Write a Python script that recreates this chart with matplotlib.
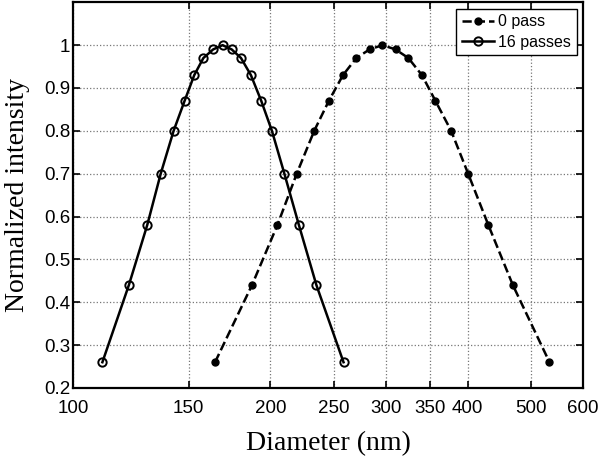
import matplotlib
matplotlib.use('Agg')
import matplotlib.pyplot as plt
from matplotlib.ticker import FixedLocator, FormatStrFormatter, NullLocator

# 0 pass (dashed, filled dots)
d_pass0 = [164.6, 187.4, 204.9, 219.3, 233.2, 245.5, 258.0, 270.4, 283.3, 296.4,
           310.3, 324.6, 340.5, 357.0, 377.3, 400.5, 430.0, 468.6, 533.0]
i_pass0 = [0.26, 0.44, 0.58, 0.70, 0.80, 0.87, 0.93, 0.97, 0.99, 1.00,
           0.99, 0.97, 0.93, 0.87, 0.80, 0.70, 0.58, 0.44, 0.26]

# 16 passes (solid, open circles)
d_pass16 = [110.8, 121.6, 129.7, 136.0, 142.3, 147.9, 153.0, 158.0, 163.5, 169.0,
            174.5, 180.3, 186.7, 193.6, 201.0, 210.0, 221.0, 235.0, 258.5]
i_pass16 = [0.26, 0.44, 0.58, 0.70, 0.80, 0.87, 0.93, 0.97, 0.99, 1.00,
            0.99, 0.97, 0.93, 0.87, 0.80, 0.70, 0.58, 0.44, 0.26]

x_ticks = [100, 150, 200, 250, 300, 350, 400, 500, 600]
y_ticks = [0.2, 0.3, 0.4, 0.5, 0.6, 0.7, 0.8, 0.9, 1.0]

tick_font = 'Liberation Sans'
label_font = 'Liberation Serif'

fig = plt.figure(figsize=(6, 4.58), dpi=100)
ax = fig.add_axes([0.122, 0.153, 0.850, 0.842])

ax.plot(d_pass0, i_pass0, color='black', linestyle='--', linewidth=1.8,
        marker='o', markersize=5, markerfacecolor='black', label='0 pass')
ax.plot(d_pass16, i_pass16, color='black', linestyle='-', linewidth=1.8,
        marker='o', markersize=6, markerfacecolor='none', markeredgewidth=1.4,
        label='16 passes')

ax.set_xscale('log')
ax.set_xlim(100, 600)
ax.set_ylim(0.2, 1.1)
ax.xaxis.set_major_locator(FixedLocator(x_ticks))
ax.xaxis.set_minor_locator(NullLocator())
ax.xaxis.set_major_formatter(FormatStrFormatter('%g'))
ax.yaxis.set_major_locator(FixedLocator(y_ticks))
ax.yaxis.set_major_formatter(FormatStrFormatter('%g'))

ax.tick_params(direction='in', top=True, right=True, length=5, width=1.2,
               labelsize=13.5)
ax.tick_params(axis='x', pad=9)
ax.tick_params(axis='y', pad=2)
for lbl in ax.get_xticklabels() + ax.get_yticklabels():
    lbl.set_fontfamily(tick_font)

ax.grid(True, linestyle=':', color='#777777', linewidth=0.9)
for sp in ax.spines.values():
    sp.set_linewidth(1.6)

ax.set_xlabel('Diameter (nm)', fontsize=20, family=label_font, labelpad=10)
ax.set_ylabel('Normalized intensity', fontsize=20, family=label_font, labelpad=10)

leg = ax.legend(loc='upper right', fancybox=False, framealpha=1,
                edgecolor='black', borderaxespad=0.4, handlelength=2.0,
                handletextpad=0.3, borderpad=0.35, labelspacing=0.35,
                prop={'family': tick_font, 'size': 11.5})
leg.get_frame().set_linewidth(1.0)

fig.savefig('out.png', dpi=100)
